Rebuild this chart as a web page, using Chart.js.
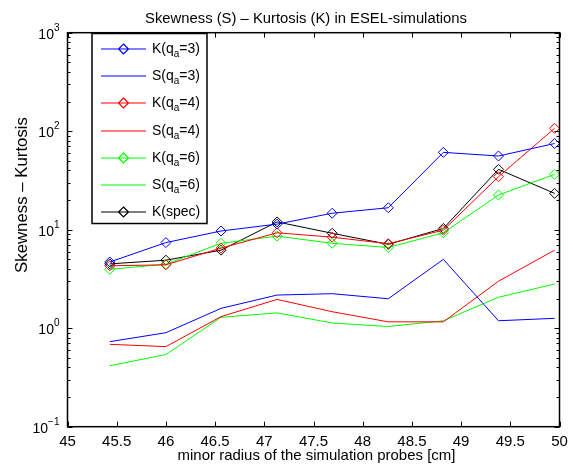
<!DOCTYPE html>
<html>
<head>
<meta charset="utf-8">
<script src="https://cdn.jsdelivr.net/npm/chart.js@4.4.1/dist/chart.umd.min.js"></script>
<style>
  html, body { margin: 0; padding: 0; background: #fff; }
  #wrap { width: 573px; height: 464px; }
</style>
</head>
<body>
<div id="wrap"><canvas id="chart" width="573" height="464"></canvas></div>
<script>
// probe positions (minor radius, cm)
const radius = [45.43, 46.0, 46.56, 47.13, 47.69, 48.26, 48.82, 49.38, 49.95];

// kurtosis / skewness per q_a
const kurt3 = [4.7, 7.4, 9.7, 11.4, 14.7, 16.7, 61, 56, 75];
const skew3 = [0.73, 0.90, 1.59, 2.17, 2.24, 1.99, 5.0, 1.19, 1.26];
const kurt4 = [4.3, 4.4, 6.5, 9.3, 8.4, 7.2, 9.9, 34.5, 107];
const skew4 = [0.686, 0.65, 1.31, 1.96, 1.47, 1.16, 1.16, 3.0, 6.2];
const kurt6 = [3.96, 4.46, 7.28, 8.6, 7.28, 6.6, 9.3, 22.5, 36.5];
const skew6 = [0.416, 0.54, 1.29, 1.43, 1.13, 1.04, 1.19, 2.06, 2.81];
const kurtSpec = [4.5, 4.9, 6.2, 12.0, 9.2, 7.1, 10.3, 41, 23.4];

const xTicks = [45, 45.5, 46, 46.5, 47, 47.5, 48, 48.5, 49, 49.5, 50];
const yExponents = [-1, 0, 1, 2, 3];

const FONT = '"Liberation Sans", Arial, Helvetica, sans-serif';
const BLUE = 'rgb(0,0,255)', RED = 'rgb(255,0,0)', GREEN = 'rgb(0,255,0)', BLACK = 'rgb(0,0,0)';

// legend entries: base text, subscript, rest
const legendItems = [
    { pre: 'K(q', sub: 'a', post: '=3)', color: BLUE, marker: true },
    { pre: 'S(q', sub: 'a', post: '=3)', color: BLUE, marker: false },
    { pre: 'K(q', sub: 'a', post: '=4)', color: RED, marker: true },
    { pre: 'S(q', sub: 'a', post: '=4)', color: RED, marker: false },
    { pre: 'K(q', sub: 'a', post: '=6)', color: GREEN, marker: true },
    { pre: 'S(q', sub: 'a', post: '=6)', color: GREEN, marker: false },
    { pre: 'K(spec)', sub: '', post: '', color: BLACK, marker: true }
];

function pts(ys) {
    return radius.map((x, i) => ({ x: x, y: ys[i] }));
}

function series(label, ys, color, marker) {
    return {
        label: label,
        data: pts(ys),
        borderColor: color,
        backgroundColor: 'transparent',
        borderWidth: 1,
        pointStyle: 'rectRot',
        pointRadius: marker ? 5 : 0,
        pointBorderColor: color,
        pointBorderWidth: 1,
        pointBackgroundColor: 'transparent',
        tension: 0
    };
}

// set font so that text fills a given width
function fitFont(ctx, text, width) {
    ctx.font = '14px ' + FONT;
    const size = 14 * width / ctx.measureText(text).width;
    ctx.font = size.toFixed(2) + 'px ' + FONT;
}

// axes frame, inward ticks, labels and legend in matlab style
const matlabAxes = {
    id: 'matlabAxes',
    afterDraw(chart) {
        const ctx = chart.ctx;
        const a = chart.chartArea;
        const xs = chart.scales.x;
        const ys = chart.scales.y;
        ctx.save();

        // ticks
        ctx.strokeStyle = BLACK;
        ctx.lineWidth = 1;
        ctx.beginPath();
        xTicks.forEach(v => {
            const px = Math.round(xs.getPixelForValue(v)) + 0.5;
            ctx.moveTo(px, a.bottom); ctx.lineTo(px, a.bottom - 5);
            ctx.moveTo(px, a.top); ctx.lineTo(px, a.top + 5);
        });
        for (let e = -1; e <= 3; e++) {
            const py = Math.round(ys.getPixelForValue(Math.pow(10, e))) + 0.5;
            ctx.moveTo(a.left, py); ctx.lineTo(a.left + 5, py);
            ctx.moveTo(a.right, py); ctx.lineTo(a.right - 5, py);
            if (e < 3) {
                for (let m = 2; m <= 9; m++) {
                    const pm = Math.round(ys.getPixelForValue(m * Math.pow(10, e))) + 0.5;
                    ctx.moveTo(a.left, pm); ctx.lineTo(a.left + 3, pm);
                    ctx.moveTo(a.right, pm); ctx.lineTo(a.right - 3, pm);
                }
            }
        }
        ctx.stroke();

        // frame
        ctx.lineWidth = 1.5;
        ctx.strokeRect(a.left, a.top, a.right - a.left, a.bottom - a.top);

        ctx.fillStyle = BLACK;

        // x tick labels
        ctx.font = '15px ' + FONT;
        ctx.textAlign = 'center';
        ctx.textBaseline = 'alphabetic';
        xTicks.forEach(v => {
            ctx.fillText(String(v), xs.getPixelForValue(v), a.bottom + 19);
        });

        // y tick labels 10^n
        yExponents.forEach(e => {
            const py = ys.getPixelForValue(Math.pow(10, e));
            const sup = String(e).replace('-', '\u2212');
            ctx.font = '10px ' + FONT;
            const supW = ctx.measureText(sup).width;
            ctx.textAlign = 'right';
            ctx.fillText(sup, a.left - 8, py - 2);
            ctx.font = '14px ' + FONT;
            ctx.fillText('10', a.left - 8 - supW, py + 6);
        });

        // title
        const title = 'Skewness (S) \u2013 Kurtosis (K) in ESEL-simulations';
        fitFont(ctx, title, 322);
        ctx.textAlign = 'center';
        ctx.fillText(title, 306, 22.5);

        // x label
        const xLabel = 'minor radius of the simulation probes [cm]';
        fitFont(ctx, xLabel, 278);
        ctx.fillText(xLabel, 316.5, 460);

        // y label
        const yLabel = 'Skewness \u2013 Kurtosis';
        ctx.save();
        fitFont(ctx, yLabel, 156);
        ctx.translate(27, 195);
        ctx.rotate(-Math.PI / 2);
        ctx.fillText(yLabel, 0, 0);
        ctx.restore();

        // legend box
        const lx = 92, ly = 33.5, lw = 115, lh = 190;
        ctx.fillStyle = 'rgb(255,255,255)';
        ctx.fillRect(lx, ly, lw, lh);
        ctx.lineWidth = 1.5;
        ctx.strokeStyle = BLACK;
        ctx.strokeRect(lx, ly, lw, lh);

        legendItems.forEach((it, i) => {
            const y = Math.round(49 + i * 27.2);
            ctx.save();
            ctx.beginPath();
            ctx.strokeStyle = it.color;
            ctx.lineWidth = 1.2;
            ctx.moveTo(101, y);
            ctx.lineTo(146, y);
            if (it.marker) {
                ctx.moveTo(123.5, y - 5);
                ctx.lineTo(128.5, y);
                ctx.lineTo(123.5, y + 5);
                ctx.lineTo(118.5, y);
                ctx.closePath();
            }
            ctx.stroke();
            ctx.restore();

            ctx.fillStyle = BLACK;
            ctx.textAlign = 'left';
            ctx.textBaseline = 'middle';
            let tx = 152;
            ctx.font = '14px ' + FONT;
            ctx.fillText(it.pre, tx, y);
            tx += ctx.measureText(it.pre).width;
            if (it.sub) {
                ctx.font = '10px ' + FONT;
                ctx.fillText(it.sub, tx, y + 5);
                tx += ctx.measureText(it.sub).width;
                ctx.font = '14px ' + FONT;
                ctx.fillText(it.post, tx, y);
            }
        });

        ctx.restore();
    }
};

new Chart(document.getElementById('chart'), {
    type: 'line',
    data: {
        datasets: [
            series('K(qa=3)', kurt3, BLUE, true),
            series('S(qa=3)', skew3, BLUE, false),
            series('K(qa=4)', kurt4, RED, true),
            series('S(qa=4)', skew4, RED, false),
            series('K(qa=6)', kurt6, GREEN, true),
            series('S(qa=6)', skew6, GREEN, false),
            series('K(spec)', kurtSpec, BLACK, true)
        ]
    },
    options: {
        responsive: false,
        animation: false,
        layout: { padding: { left: 67.5, right: 13.5, top: 32.7, bottom: 37.3 } },
        plugins: {
            legend: { display: false },
            tooltip: { enabled: false }
        },
        scales: {
            x: { type: 'linear', min: 45, max: 50, display: false },
            y: { type: 'logarithmic', min: 0.1, max: 1000, display: false }
        }
    },
    plugins: [matlabAxes]
});
</script>
</body>
</html>
